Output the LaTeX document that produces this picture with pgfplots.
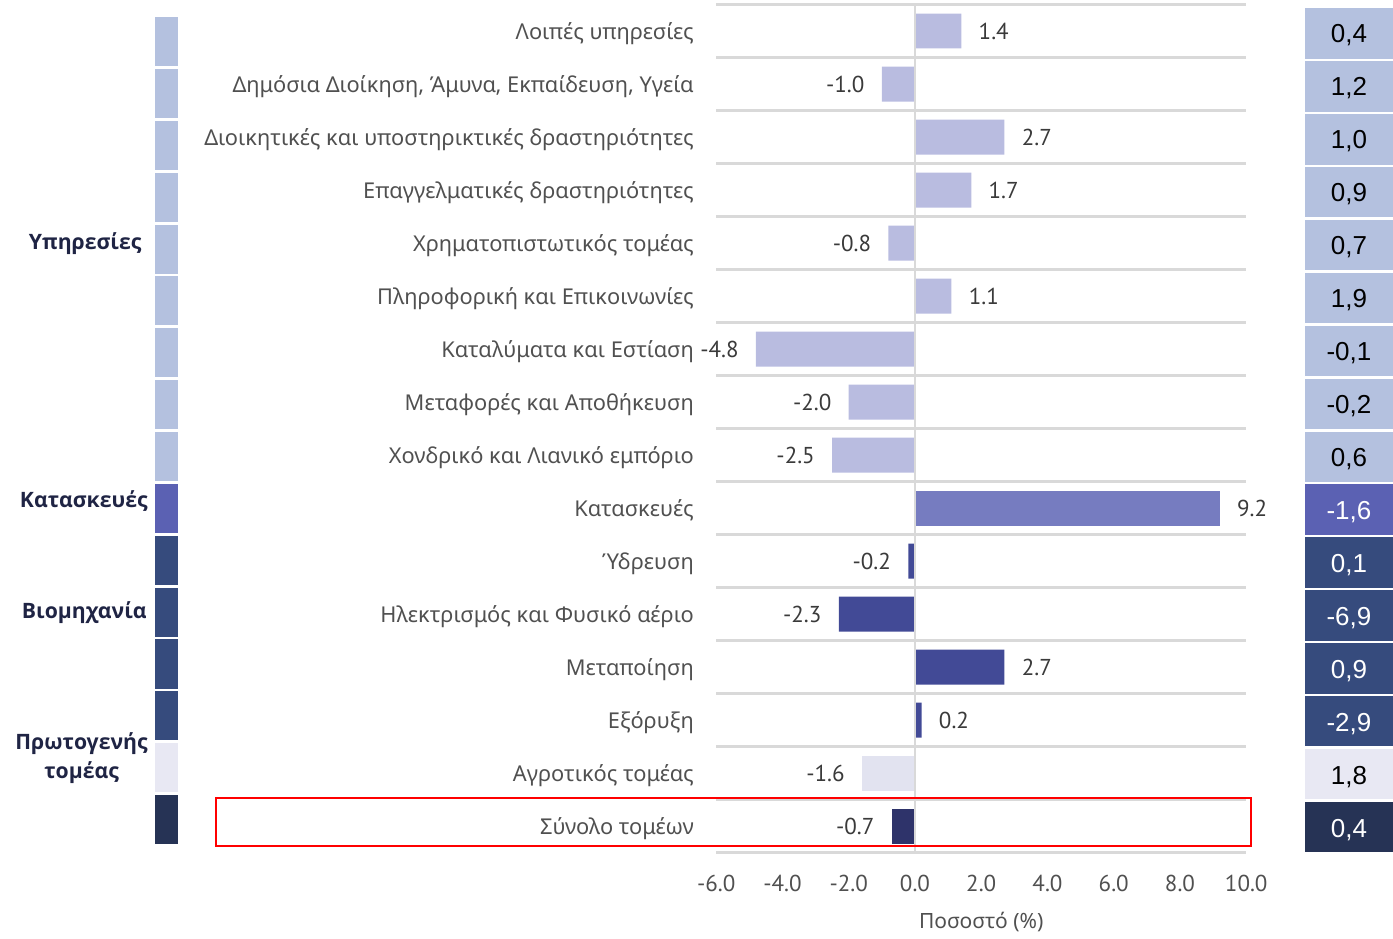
\documentclass[border=0pt]{standalone}
\usepackage{pgfplots}
\pgfplotsset{compat=1.18}
\usepackage{fontspec}
\setmainfont{Noto Sans}
\newfontfamily\arialf{Liberation Sans}
\newfontfamily\narrowf{PT Sans}
\newfontfamily\grpf{Open Sans}
\definecolor{svcbar}{HTML}{B9BCE0}
\definecolor{svcbox}{HTML}{B4C1DF}
\definecolor{conbar}{HTML}{767CC0}
\definecolor{conbox}{HTML}{5B61B3}
\definecolor{indbar}{HTML}{424A96}
\definecolor{indbox}{HTML}{364B7D}
\definecolor{pribar}{HTML}{E2E3F0}
\definecolor{pribox}{HTML}{E8E8F3}
\definecolor{totbar}{HTML}{2E336A}
\definecolor{totbox}{HTML}{263355}
\definecolor{gridgray}{HTML}{D9D9D9}
\definecolor{labgray}{HTML}{505050}
\definecolor{valgray}{HTML}{3A3A3A}
\definecolor{navy}{HTML}{1F2444}
\pgfplotsset{
  mybar/.style 2 args={xbar, bar width=0.66, bar shift=0pt, draw=none, fill=#1,
    nodes near coords, point meta=explicit symbolic,
    nodes near coords align={#2},
    every node near coord/.append style={anchor=#2, font=\narrowf\fontsize{11.5}{13}\selectfont, text=valgray, inner xsep=8.5pt, inner ysep=0pt, yshift=-0.4pt}}
}
\begin{document}
\begin{tikzpicture}
\begin{axis}[
  scale only axis, width=265pt, height=424pt,
  xmin=-6, xmax=10, ymin=-0.5, ymax=15.5,
  axis line style={draw=none},
  clip=false,
  xtick={-6,-4,...,10},
  xticklabels={-6.0,-4.0,-2.0,0.0,2.0,4.0,6.0,8.0,10.0},
  xticklabel style={font=\narrowf\fontsize{11.5}{13}\selectfont, text=labgray, anchor=center, yshift=-15.25pt},
  ytick={0,...,15},
  yticklabels={Σύνολο τομέων, Αγροτικός τομέας, Εξόρυξη, Μεταποίηση, Ηλεκτρισμός και Φυσικό αέριο, Ύδρευση, Κατασκευές, Χονδρικό και Λιανικό εμπόριο, Μεταφορές και Αποθήκευση, Καταλύματα και Εστίαση, Πληροφορική και Επικοινωνίες, Χρηματοπιστωτικός τομέας, Επαγγελματικές δραστηριότητες, Διοικητικές και υποστηρικτικές δραστηριότητες, {Δημόσια Διοίκηση, Άμυνα, Εκπαίδευση, Υγεία}, Λοιπές υπηρεσίες},
  yticklabel style={font=\fontsize{10.9}{13}\selectfont, text=labgray, anchor=east, inner sep=0pt, xshift=-11pt, yshift=-1.2pt},
  major tick style={draw=none},
  extra y ticks={-0.5,0.5,...,15.5},
  extra y tick labels={},
  extra y tick style={grid=major, major grid style={draw=gridgray, line width=1.3pt}, tick style={draw=none}},
  xlabel={Ποσοστό (\%)},
  xlabel style={font=\fontsize{10.5}{12}\selectfont, text=labgray, at={(axis description cs:0.5,0)}, anchor=center, yshift=-34.5pt},
]
% left strips and right boxes
\pgfplotsinvokeforeach{0,...,8}{
  \fill[svcbox] (axis cs:-22.94,{(852.5-(17+51.87*#1))/53-0.5}) rectangle (axis cs:-22.25,{(852.5-(66+51.87*#1))/53-0.5});
  \fill[svcbox] (axis cs:11.774,{(852.5-(8.3+52.9*#1))/53-0.5}) rectangle (axis cs:14.43,{(852.5-(58.7+52.9*#1))/53-0.5});
}
\pgfplotsinvokeforeach{9}{
  \fill[conbox] (axis cs:-22.94,{(852.5-(17+51.87*#1))/53-0.5}) rectangle (axis cs:-22.25,{(852.5-(66+51.87*#1))/53-0.5});
  \fill[conbox] (axis cs:11.774,{(852.5-(8.3+52.9*#1))/53-0.5}) rectangle (axis cs:14.43,{(852.5-(58.7+52.9*#1))/53-0.5});
}
\pgfplotsinvokeforeach{10,...,13}{
  \fill[indbox] (axis cs:-22.94,{(852.5-(17+51.87*#1))/53-0.5}) rectangle (axis cs:-22.25,{(852.5-(66+51.87*#1))/53-0.5});
  \fill[indbox] (axis cs:11.774,{(852.5-(8.3+52.9*#1))/53-0.5}) rectangle (axis cs:14.43,{(852.5-(58.7+52.9*#1))/53-0.5});
}
\pgfplotsinvokeforeach{14}{
  \fill[pribox] (axis cs:-22.94,{(852.5-(17+51.87*#1))/53-0.5}) rectangle (axis cs:-22.25,{(852.5-(66+51.87*#1))/53-0.5});
  \fill[pribox] (axis cs:11.774,{(852.5-(8.3+52.9*#1))/53-0.5}) rectangle (axis cs:14.43,{(852.5-(58.7+52.9*#1))/53-0.5});
}
\pgfplotsinvokeforeach{15}{
  \fill[totbox] (axis cs:-22.94,{(852.5-(17+51.87*#1))/53-0.5}) rectangle (axis cs:-22.25,{(852.5-(66+51.87*#1))/53-0.5});
  \fill[totbox] (axis cs:11.774,{(852.5-(8.3+52.9*#1))/53-0.5}) rectangle (axis cs:14.43,{(852.5-(58.7+52.9*#1))/53-0.5});
}
% bars: services
\addplot[mybar={svcbar}{west}] table[meta=l]{
x y l
1.4 15 1.4
2.7 13 2.7
1.7 12 1.7
1.1 10 1.1
};
\addplot[mybar={svcbar}{east}] table[meta=l]{
x y l
-1.0 14 -1.0
-0.8 11 -0.8
-4.8 9 -4.8
-2.0 8 -2.0
-2.5 7 -2.5
};
% construction
\addplot[mybar={conbar}{west}] table[meta=l]{
x y l
9.2 6 9.2
};
% industry
\addplot[mybar={indbar}{west}] table[meta=l]{
x y l
2.7 3 2.7
0.2 2 0.2
};
\addplot[mybar={indbar}{east}] table[meta=l]{
x y l
-0.2 5 -0.2
-2.3 4 -2.3
};
% primary
\addplot[mybar={pribar}{east}] table[meta=l]{
x y l
-1.6 1 -1.6
};
% total
\addplot[mybar={totbar}{east}] table[meta=l]{
x y l
-0.7 0 -0.7
};
% zero line
\draw[gridgray, line width=1pt] (axis cs:0,-0.5) -- (axis cs:0,15.5);
% right column values
\addplot[draw=none, mark=none, nodes near coords, point meta=explicit symbolic,
  nodes near coords align=center,
  every node near coord/.append style={anchor=center, font=\arialf\fontsize{13}{15}\selectfont, text=black}]
  table[meta=l]{
x y l
13.1 14.92 0,4
13.1 13.92 1,2
13.1 12.92 1,0
13.1 11.92 0,9
13.1 10.92 0,7
13.1 9.92 1,9
13.1 8.92 -0,1
13.1 7.92 -0,2
13.1 6.92 0,6
13.1 0.92 1,8
};
\addplot[draw=none, mark=none, nodes near coords, point meta=explicit symbolic,
  nodes near coords align=center,
  every node near coord/.append style={anchor=center, font=\arialf\fontsize{13}{15}\selectfont, text=white}]
  table[meta=l]{
x y l
13.1 5.92 -1,6
13.1 4.92 0,1
13.1 3.92 -6,9
13.1 2.92 0,9
13.1 1.92 -2,9
13.1 -0.08 0,4
};
% group labels
\node[anchor=east, font=\grpf\bfseries\fontsize{10.6}{12}\selectfont, text=navy, inner sep=0pt] at (axis cs:-23.34,10.98) {Υπηρεσίες};
\node[anchor=east, font=\grpf\bfseries\fontsize{10.6}{12}\selectfont, text=navy, inner sep=0pt] at (axis cs:-23.15,6.13) {Κατασκευές};
\node[anchor=east, font=\grpf\bfseries\fontsize{10.6}{12}\selectfont, text=navy, inner sep=0pt] at (axis cs:-23.18,4.02) {Βιομηχανία};
\node[anchor=east, align=center, font=\grpf\bfseries\fontsize{10.6}{14.5}\selectfont, text=navy, inner sep=0pt] at (axis cs:-23.15,1.28) {Πρωτογενής\\τομέας};
% highlight box
\draw[red, line width=0.7pt] (axis cs:-21.10,0.528) rectangle (axis cs:10.14,-0.377);
% bounding box
\path (axis cs:-27.62,15.585) rectangle (axis cs:14.43,-2.019);
\end{axis}
\end{tikzpicture}
\end{document}
